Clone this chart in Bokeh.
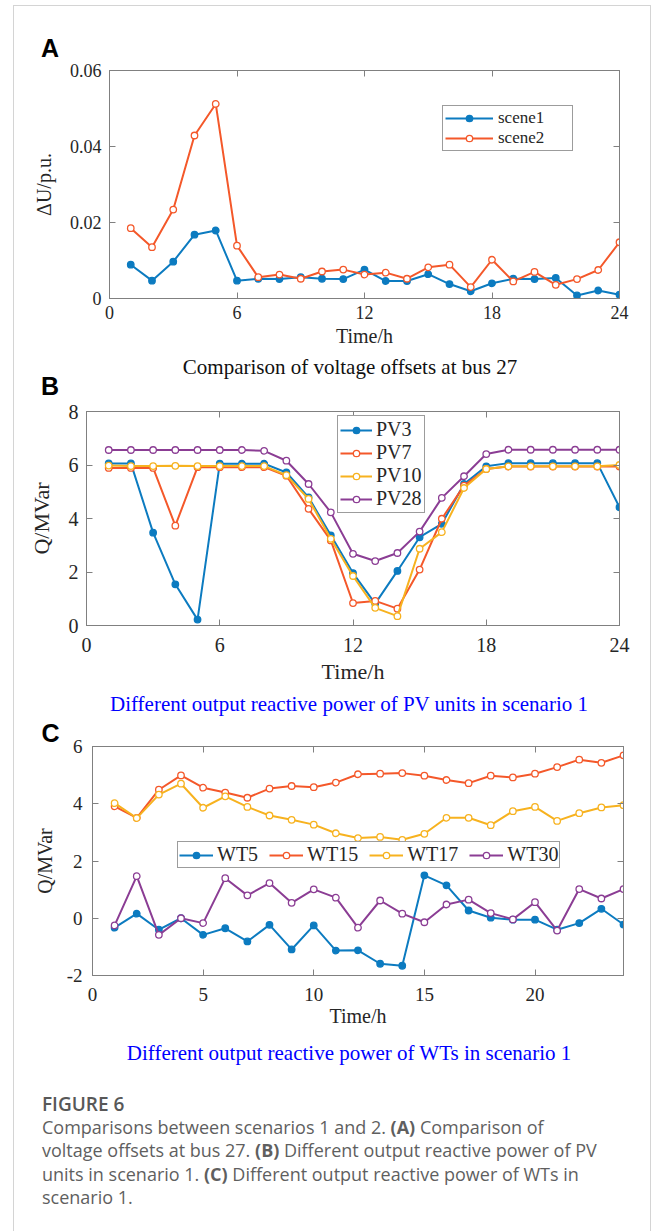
from bokeh.plotting import figure
from bokeh.models import LinearAxis, FixedTicker, Range1d, Div, Title
from bokeh.layouts import column
from bokeh.embed import file_html
from bokeh.resources import INLINE

# ---------------- data ----------------
hours = list(range(1, 25))

scene1 = [0.0089, 0.0047, 0.0097, 0.0168, 0.0179, 0.0047, 0.0052, 0.0051, 0.0056, 0.0052,
          0.0051, 0.0076, 0.0046, 0.0046, 0.0064, 0.0038, 0.0019, 0.0040, 0.0052, 0.0051,
          0.0054, 0.0008, 0.0021, 0.0010]
scene2 = [0.0185, 0.0135, 0.0234, 0.0429, 0.0512, 0.0139, 0.0056, 0.0063, 0.0052, 0.0071,
          0.0076, 0.0063, 0.0068, 0.0052, 0.0082, 0.0089, 0.0030, 0.0102, 0.0045, 0.0070,
          0.0036, 0.0051, 0.0075, 0.0148]

pv3 = [6.06, 6.06, 3.47, 1.54, 0.22, 6.05, 6.05, 6.05, 5.72, 4.79, 3.37, 1.96,
       0.82, 2.04, 3.30, 3.80, 5.29, 5.95, 6.07, 6.07, 6.07, 6.07, 6.07, 4.42]
pv7 = [5.89, 5.89, 5.89, 3.73, 5.92, 5.92, 5.92, 5.92, 5.60, 4.36, 3.18, 0.84,
       0.92, 0.63, 2.09, 3.99, 5.23, 5.85, 5.94, 5.94, 5.94, 5.94, 5.94, 5.94]
pv10 = [5.98, 5.96, 5.96, 5.97, 5.96, 5.96, 5.96, 5.96, 5.62, 4.73, 3.24, 1.85,
        0.66, 0.35, 2.87, 3.49, 5.14, 5.85, 5.95, 5.95, 5.95, 5.95, 5.95, 6.00]
pv28 = [6.56, 6.56, 6.56, 6.56, 6.56, 6.56, 6.56, 6.53, 6.16, 5.29, 4.23, 2.68,
        2.41, 2.71, 3.51, 4.77, 5.58, 6.41, 6.57, 6.57, 6.57, 6.57, 6.57, 6.57]

wt5 = [-0.33, 0.16, -0.40, 0.00, -0.58, -0.35, -0.81, -0.23, -1.09, -0.25, -1.13, -1.12,
       -1.59, -1.66, 1.50, 1.15, 0.27, 0.02, -0.05, -0.05, -0.40, -0.17, 0.33, -0.22]
wt15 = [3.91, 3.51, 4.49, 4.99, 4.56, 4.39, 4.21, 4.53, 4.62, 4.58, 4.74, 5.03,
        5.05, 5.07, 4.98, 4.83, 4.72, 4.98, 4.92, 5.05, 5.28, 5.54, 5.43, 5.69]
wt17 = [4.02, 3.50, 4.32, 4.70, 3.86, 4.26, 3.89, 3.59, 3.44, 3.27, 2.97, 2.80,
        2.84, 2.74, 2.95, 3.51, 3.51, 3.25, 3.74, 3.89, 3.40, 3.67, 3.87, 3.95]
wt30 = [-0.25, 1.47, -0.58, 0.00, -0.17, 1.40, 0.80, 1.23, 0.54, 1.01, 0.72, -0.33,
        0.62, 0.16, -0.14, 0.48, 0.65, 0.18, -0.04, 0.56, -0.43, 1.02, 0.69, 1.02]

xticks_ab = [0, 6, 12, 18, 24]
xticks_c = [0, 5, 10, 15, 20]
yticks_a = [0, 0.02, 0.04, 0.06]
yticks_a_labels = ["0", "0.02", "0.04", "0.06"]
yticks_b = [0, 2, 4, 6, 8]
yticks_b_labels = ["0", "2", "4", "6", "8"]
yticks_c = [-2, 0, 2, 4, 6]
yticks_c_labels = ["-2", "0", "2", "4", "6"]

labels_a = ["scene1", "scene2"]
labels_b = ["PV3", "PV7", "PV10", "PV28"]
labels_c = ["WT5", "WT15", "WT17", "WT30"]

title_a = "Comparison of voltage offsets at bus 27"
title_b = "Different output reactive power of PV units in scenario 1"
title_c = "Different output reactive power of WTs in scenario 1"
caption_lines = [
    "Comparisons between scenarios 1 and 2. <b>(A)</b> Comparison of",
    "voltage offsets at bus 27. <b>(B)</b> Different output reactive power of PV",
    "units in scenario 1. <b>(C)</b> Different output reactive power of WTs in",
    "scenario 1.",
]

# ---------------- style ----------------
SERIF = "Liberation Serif"
SANS = "Liberation Sans"
AX_GRAY = "#808080"
TXT = "#262626"
BLUE = "#0C7BC0"
ORANGE = "#F4582A"
YELLOW = "#F7B21F"
PURPLE = "#8B3D94"
W = 636


def style_axis(ax, ticks, labels, size, standoff):
    ax.ticker = FixedTicker(ticks=ticks)
    ax.major_label_overrides = dict(zip(ticks, labels))
    ax.axis_line_color = AX_GRAY
    ax.major_tick_line_color = AX_GRAY
    ax.minor_tick_line_color = None
    ax.major_tick_in = 6
    ax.major_tick_out = 0
    ax.major_label_text_font = SERIF
    ax.major_label_text_font_size = size
    ax.major_label_text_color = TXT
    ax.major_label_standoff = standoff


def make_panel(height, borders, x_end, yr, xticks, yticks, ylabels, tick_size,
               xlab, ylab, xlab_size, ylab_size, xstand, ystand, xlabstand, ylabstand):
    top, bottom, left, right = borders
    p = figure(width=W, height=height, x_range=Range1d(0, x_end), y_range=Range1d(*yr),
               toolbar_location=None, output_backend="svg", title=None,
               min_border_top=top, min_border_bottom=bottom,
               min_border_left=left, min_border_right=right,
               background_fill_color="white", border_fill_color="white",
               outline_line_color=AX_GRAY)
    if "frame_align" in p.properties():
        p.frame_align = False
    p.xgrid.visible = False
    p.ygrid.visible = False
    xax = p.xaxis[0]
    yax = p.yaxis[0]
    style_axis(xax, xticks, [str(t) for t in xticks], tick_size, xstand)
    style_axis(yax, yticks, ylabels, tick_size, ystand)
    for ax, lab, size, st in ((xax, xlab, xlab_size, xlabstand), (yax, ylab, ylab_size, ylabstand)):
        ax.axis_label = lab
        ax.axis_label_text_font = SERIF
        ax.axis_label_text_font_style = "normal"
        ax.axis_label_text_font_size = size
        ax.axis_label_text_color = TXT
        ax.axis_label_standoff = st
    # mirrored axes (box on), ticks only
    tax = LinearAxis()
    style_axis(tax, xticks, ["" for _ in xticks], "0px", 0)
    p.add_layout(tax, "above")
    rax = LinearAxis()
    style_axis(rax, yticks, ["" for _ in yticks], "0px", 0)
    p.add_layout(rax, "right")
    return p


def series(p, ys, color, label, filled):
    p.line(hours, ys, line_color=color, line_width=2, legend_label=label)
    p.scatter(hours, ys, marker="circle", size=6.5, line_color=color, line_width=1.3,
              fill_color=color if filled else "white", legend_label=label)


def style_legend(p, loc, size, glyph_w, padding, spacing, standoff, label_w=20,
                 orientation="vertical"):
    lg = p.legend[0]
    lg.location = loc
    lg.orientation = orientation
    lg.label_text_font = SERIF
    lg.label_text_font_size = size
    lg.label_text_color = TXT
    lg.glyph_width = glyph_w
    lg.glyph_height = 16
    lg.label_height = 16
    lg.label_width = label_w
    lg.padding = padding
    lg.spacing = spacing
    lg.margin = 0
    lg.label_standoff = standoff
    lg.border_line_color = "#3a3a3a"
    lg.border_line_width = 1
    lg.background_fill_color = "white"
    lg.background_fill_alpha = 1


def span(left, top, text, font, size, color, weight="normal", width=None, align="left"):
    w = f"width:{width}px;" if width else ""
    return (f'<span style="position:absolute;left:{left}px;top:{top}px;{w}'
            f'text-align:{align};white-space:nowrap;font-family:\'{font}\';'
            f'font-size:{size}px;line-height:{size}px;color:{color};font-weight:{weight};">'
            f'{text}</span>')


def text_div(height, spans):
    html = (f'<div style="position:relative;width:{W}px;height:{height}px;">'
            + "".join(spans) + "</div>")
    return Div(text=html, width=W, height=height, margin=0)


# page coordinates: content area starts at x=14, y=6
# ---------------- letter A ----------------
divA = text_div(54, [span(27, 30, "A", SANS, 25, "black", "bold")])

# ---------------- panel A ----------------
pA = make_panel(296, (10, 58, 95, 31), 24, (0, 0.06), xticks_ab, yticks_a, yticks_a_labels,
                "18px", "Time/h", "ΔU/p.u.", "20px", "20px", 7, 8, 3, 12)
series(pA, scene1, BLUE, labels_a[0], True)
series(pA, scene2, ORANGE, labels_a[1], False)
style_legend(pA, (333, 147), "17px", 48, 2, -2, 5, label_w=72)

divAB = text_div(46, [span(0, 1, title_a, SERIF, 21, "#111111", width=672, align="center"),
                      span(27, 18, "B", SANS, 25, "black", "bold")])

# ---------------- panel B ----------------
pB = make_panel(292, (9, 69, 72, 31), 24, (0, 8), xticks_ab, yticks_b, yticks_b_labels,
                "20px", "Time/h", "Q/MVar", "22px", "22px", 12, 8, 4, 12)
series(pB, pv3, BLUE, labels_b[0], True)
series(pB, pv7, ORANGE, labels_b[1], False)
series(pB, pv10, YELLOW, labels_b[2], False)
series(pB, pv28, PURPLE, labels_b[3], False)
style_legend(pB, (251, 112), "20px", 32, 2, -2, 4)

divBC = text_div(22, [span(0, 0, title_b, SERIF, 21, "#0000FF", width=670, align="center")])

# ---------------- panel C ----------------
pC = make_panel(318, (30, 59, 78, 27), 24, (-2, 6), xticks_c, yticks_c, yticks_c_labels,
                "19px", "Time/h", "Q/MVar", "20px", "20px", 12, 10, 1, 8)
pC.add_layout(Title(text="C", align="left", offset=-51, standoff=0,
                    text_font=SANS, text_font_size="25px", text_font_style="bold",
                    text_color="black", vertical_align="bottom"), "above")
series(pC, wt5, BLUE, labels_c[0], True)
series(pC, wt15, ORANGE, labels_c[1], False)
series(pC, wt17, YELLOW, labels_c[2], False)
series(pC, wt30, PURPLE, labels_c[3], False)
style_legend(pC, (85, 107), "20px", 34, 1, 11, 4, orientation="horizontal")

# ---------------- subtitle C + caption ----------------
cap_spans = [span(0, 9, title_c, SERIF, 21, "#0000FF", width=670, align="center"),
             span(28, 61, "FIGURE 6", "Open Sans", 19, "#585858", "600")]
for i, line in enumerate(caption_lines):
    cap_spans.append(span(28, 84 + i * 23.3, line, "Open Sans", 18, "#5f5f5f"))
divCap = text_div(200, cap_spans)

layout = column(divA, pA, divAB, pB, divBC, pC, divCap, spacing=0,
                styles={"border": "1px solid #d4d4d4", "margin-left": "13px",
                        "margin-top": "5px"})

open("out.html", "w").write(file_html(layout, INLINE))
